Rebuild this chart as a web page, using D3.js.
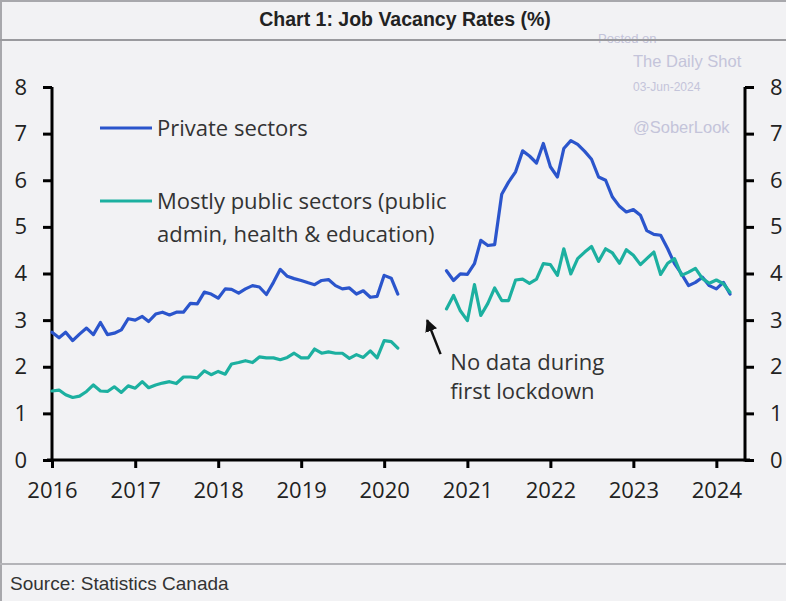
<!DOCTYPE html>
<html>
<head>
<meta charset="utf-8">
<script src="https://cdn.jsdelivr.net/npm/d3@7"></script>
<style>
  html, body { margin: 0; padding: 0; background: #f2f2f4; }
  svg { display: block; }
</style>
</head>
<body>
<script>
// ---------------- DATA ----------------
const title = "Chart 1: Job Vacancy Rates (%)";
const source = "Source: Statistics Canada";
const seriesNames = ["Private sectors", "Mostly public sectors (public", "admin, health & education)"];
const annotation = ["No data during", "first lockdown"];
const watermark = ["Posted on", "The Daily Shot", "03-Jun-2024", "@SoberLook"];

const yTicks = [0, 1, 2, 3, 4, 5, 6, 7, 8];
const xTickYears = [2016, 2017, 2018, 2019, 2020, 2021, 2022, 2023, 2024];

// monthly values, Jan 2016 .. Mar 2020
const preStart = "2016-01";
const privatePre = [
  2.74, 2.62, 2.74, 2.56, 2.70, 2.83, 2.69, 2.95, 2.69, 2.72, 2.79, 3.03,
  3.00, 3.08, 2.97, 3.13, 3.17, 3.11, 3.17, 3.17, 3.36, 3.35, 3.60, 3.56,
  3.47, 3.67, 3.66, 3.58, 3.67, 3.74, 3.71, 3.55, 3.81, 4.09, 3.94, 3.89,
  3.85, 3.80, 3.76, 3.85, 3.87, 3.74, 3.67, 3.69, 3.56, 3.63, 3.49, 3.51,
  3.96, 3.90, 3.56
];
const publicPre = [
  1.48, 1.50, 1.40, 1.34, 1.37, 1.47, 1.61, 1.48, 1.47, 1.57, 1.45, 1.59,
  1.54, 1.68, 1.55, 1.61, 1.65, 1.68, 1.64, 1.78, 1.78, 1.76, 1.91, 1.83,
  1.90, 1.84, 2.06, 2.09, 2.13, 2.09, 2.21, 2.19, 2.19, 2.15, 2.20, 2.29,
  2.19, 2.19, 2.38, 2.29, 2.32, 2.29, 2.29, 2.18, 2.26, 2.20, 2.34, 2.19,
  2.56, 2.54, 2.40
];
// monthly values, Oct 2020 .. Mar 2024
const postStart = "2020-10";
const privatePost = [
  4.06, 3.85, 3.99,
  3.98, 4.21, 4.71, 4.60, 4.62, 5.70, 5.96, 6.18, 6.63, 6.52, 6.37, 6.79,
  6.29, 6.07, 6.68, 6.85, 6.77, 6.62, 6.45, 6.07, 6.00, 5.64, 5.44, 5.32,
  5.37, 5.25, 4.92, 4.84, 4.82, 4.53, 4.21, 3.99, 3.74, 3.81, 3.92, 3.74,
  3.67, 3.81, 3.56
];
const publicPost = [
  3.24, 3.53, 3.20,
  2.99, 3.76, 3.10, 3.36, 3.69, 3.42, 3.42, 3.86, 3.88, 3.79, 3.88, 4.21,
  4.19, 3.96, 4.53, 3.99, 4.32, 4.46, 4.58, 4.26, 4.53, 4.44, 4.22, 4.51,
  4.39, 4.19, 4.32, 4.46, 3.98, 4.22, 4.32, 3.96, 4.03, 4.11, 3.89, 3.79,
  3.86, 3.78, 3.60
];

// ---------------- DRAW ----------------
const W = 786, H = 601;
const BLUE = "#2b55cc", TEAL = "#1cb0a0", BG = "#f2f2f4";
const parseM = d3.timeParse("%Y-%m");
function toPoints(start, vals) {
  const s = parseM(start);
  return vals.map((v, i) => ({ date: d3.timeMonth.offset(s, i), value: v }));
}

const svg = d3.select("body").append("svg").attr("width", W).attr("height", H);
svg.append("rect").attr("width", W).attr("height", H).attr("fill", BG);

// frame
svg.append("line").attr("x1", 1).attr("x2", 1).attr("y1", 0).attr("y2", H)
  .attr("stroke", "#a8a8ac").attr("stroke-width", 2);
svg.append("line").attr("x1", 0).attr("x2", W).attr("y1", 1).attr("y2", 1)
  .attr("stroke", "#a8a8ac").attr("stroke-width", 2);

// title
svg.append("text").attr("x", 405).attr("y", 26).attr("text-anchor", "middle")
  .attr("font-family", "'Liberation Sans', Arial, sans-serif").attr("font-weight", "bold")
  .attr("font-size", 19.5).attr("fill", "#222").text(title);

// watermark (behind divider)
const wmFont = "'Liberation Sans', Arial, sans-serif";
const wmColor = "#c4c4da";
svg.append("text").attr("x", 598).attr("y", 43).attr("font-family", wmFont)
  .attr("font-size", 13).attr("fill", wmColor).text(watermark[0]);
svg.append("text").attr("x", 633).attr("y", 67).attr("font-family", wmFont)
  .attr("font-size", 16.5).attr("fill", wmColor).text(watermark[1]);
svg.append("text").attr("x", 633).attr("y", 91).attr("font-family", wmFont)
  .attr("font-size", 12).attr("fill", wmColor).text(watermark[2]);
svg.append("text").attr("x", 633).attr("y", 133).attr("font-family", wmFont)
  .attr("font-size", 16.5).attr("fill", wmColor).text(watermark[3]);

// dividers
svg.append("line").attr("x1", 0).attr("x2", W).attr("y1", 40).attr("y2", 40)
  .attr("stroke", "#9a9a9e").attr("stroke-width", 2);
svg.append("line").attr("x1", 0).attr("x2", W).attr("y1", 564).attr("y2", 564)
  .attr("stroke", "#b4b4b8").attr("stroke-width", 2);

// source
svg.append("text").attr("x", 10).attr("y", 590)
  .attr("font-family", "'Liberation Sans', Arial, sans-serif")
  .attr("font-size", 19).attr("fill", "#333").text(source);

// scales
const x = d3.scaleTime()
  .domain([new Date(2016, 0, 1), new Date(2024, 4, 6)])
  .range([52, 745]);
const y = d3.scaleLinear().domain([0, 8]).range([460, 87]);

const bodyFont = "'Open Sans', 'Noto Sans', sans-serif";

// axes
const gx = svg.append("g").attr("transform", "translate(0,460)")
  .call(d3.axisBottom(x).tickValues(xTickYears.map(yr => new Date(yr, 0, 1)))
    .tickFormat(d3.timeFormat("%Y")).tickSize(8).tickSizeOuter(0).tickPadding(14));
const gl = svg.append("g").attr("transform", "translate(52,0)")
  .call(d3.axisLeft(y).tickValues(yTicks).tickSize(9).tickSizeOuter(0).tickPadding(16));
const gr = svg.append("g").attr("transform", "translate(745,0)")
  .call(d3.axisRight(y).tickValues(yTicks).tickSize(9).tickSizeOuter(0).tickPadding(16));

[gx, gl, gr].forEach(g => {
  g.select(".domain").attr("stroke", "#000").attr("stroke-width", 3);
  g.selectAll(".tick line").attr("stroke", "#000").attr("stroke-width", 3);
  g.selectAll(".tick text").attr("font-family", bodyFont).attr("font-size", 22)
    .attr("fill", "#222");
});
// extend x axis line slightly beyond both y axes
gx.select(".domain").attr("d", "M" + (47) + ",0H" + (750));
gl.select(".domain").attr("d", "M0," + y(8) + "V" + (y(0) + 1.5));
gr.select(".domain").attr("d", "M0," + y(8) + "V" + (y(0) + 1.5));

// lines
const line = d3.line().x(d => x(d.date)).y(d => y(d.value)).curve(d3.curveLinear);
const series = [
  { pts: toPoints(preStart, publicPre), color: TEAL },
  { pts: toPoints(preStart, privatePre), color: BLUE },
  { pts: toPoints(postStart, privatePost), color: BLUE },
  { pts: toPoints(postStart, publicPost), color: TEAL }
];
series.forEach(s => {
  svg.append("path").datum(s.pts).attr("d", line).attr("fill", "none")
    .attr("stroke", s.color).attr("stroke-width", 3.2)
    .attr("stroke-linejoin", "round").attr("stroke-linecap", "round");
});

// legend
const legFont = 22;
const lg = svg.append("g");
lg.append("line").attr("x1", 100).attr("x2", 152).attr("y1", 128).attr("y2", 128)
  .attr("stroke", BLUE).attr("stroke-width", 3.2);
lg.append("text").attr("x", 157).attr("y", 136).attr("font-family", bodyFont)
  .attr("font-size", legFont).attr("fill", "#333").text(seriesNames[0]);
lg.append("line").attr("x1", 100).attr("x2", 152).attr("y1", 201).attr("y2", 201)
  .attr("stroke", TEAL).attr("stroke-width", 3.2);
lg.append("text").attr("x", 157).attr("y", 209).attr("font-family", bodyFont)
  .attr("font-size", legFont).attr("fill", "#333").text(seriesNames[1]);
lg.append("text").attr("x", 157).attr("y", 242).attr("font-family", bodyFont)
  .attr("font-size", legFont).attr("fill", "#333").text(seriesNames[2]);

// annotation arrow
svg.append("defs").append("marker").attr("id", "ah").attr("viewBox", "0 0 10 10")
  .attr("refX", 9).attr("refY", 5).attr("markerWidth", 5).attr("markerHeight", 5)
  .attr("orient", "auto")
  .append("path").attr("d", "M0,0L10,5L0,10z").attr("fill", "#111");
svg.append("line")
  .attr("x1", x(new Date(2020, 8, 5))).attr("y1", y(2.27))
  .attr("x2", x(new Date(2020, 6, 8))).attr("y2", y(3.0))
  .attr("stroke", "#111").attr("stroke-width", 2.5).attr("marker-end", "url(#ah)");
const ax = x(new Date(2020, 9, 18));
svg.append("text").attr("x", ax).attr("y", 370).attr("font-family", bodyFont)
  .attr("font-size", legFont).attr("fill", "#333").text(annotation[0]);
svg.append("text").attr("x", ax).attr("y", 399).attr("font-family", bodyFont)
  .attr("font-size", legFont).attr("fill", "#333").text(annotation[1]);
</script>
</body>
</html>
